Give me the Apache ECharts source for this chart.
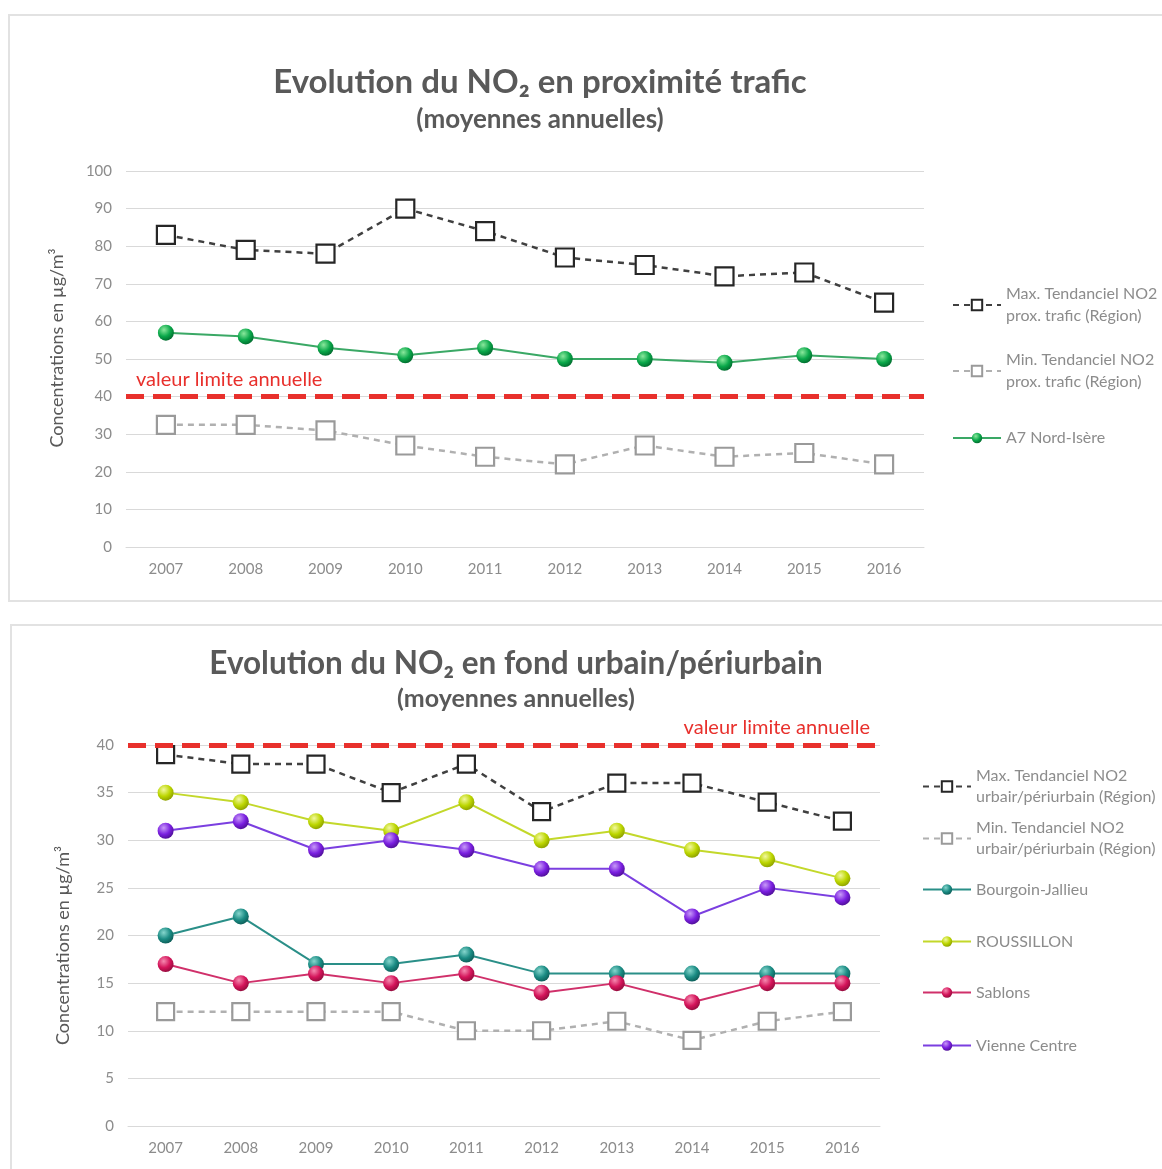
<!DOCTYPE html>
<html>
<head>
<meta charset="utf-8">
<script src="https://cdn.jsdelivr.net/npm/echarts@6/dist/echarts.min.js"></script>
<style>
  html, body { margin: 0; padding: 0; background: #ffffff; }
  body { width: 1162px; height: 1169px; position: relative; overflow: hidden; }
  .panel { position: absolute; border: 2px solid #e2e2e2; background: #ffffff; box-sizing: border-box; }
  #chart { position: absolute; left: 0; top: 0; width: 1162px; height: 1169px; }
</style>
</head>
<body>
<div class="panel" style="left:8px; top:14px; width:1170px; height:588px;"></div>
<div class="panel" style="left:10px; top:624px; width:1170px; height:560px;"></div>
<div id="chart"></div>
<script>
// Years on the category axis
const years = ['2007', '2008', '2009', '2010', '2011', '2012', '2013', '2014', '2015', '2016'];

// Traffic proximity stations (µg/m³)
const traficMax = [83, 79, 78, 90, 84, 77, 75, 72, 73, 65];
const traficMin = [32.5, 32.5, 31, 27, 24, 22, 27, 24, 25, 22];
const a7NordIsere = [57, 56, 53, 51, 53, 50, 50, 49, 51, 50];

// Urban / suburban background stations (µg/m³)
const urbainMax = [39, 38, 38, 35, 38, 33, 36, 36, 34, 32];
const urbainMin = [12, 12, 12, 12, 10, 10, 11, 9, 11, 12];
const bourgoinJallieu = [20, 22, 17, 17, 18, 16, 16, 16, 16, 16];
const roussillon = [35, 34, 32, 31, 34, 30, 31, 29, 28, 26];
const sablons = [17, 15, 16, 15, 16, 14, 15, 13, 15, 15];
const vienneCentre = [31, 32, 29, 30, 29, 27, 27, 22, 25, 24];

// Annual limit value
const valeurLimite = 40;

// Value axis ranges [min, max, step]
const traficAxis = [0, 100, 10];
const urbainAxis = [0, 40, 5];

const FONT = 'Lato, "Open Sans", sans-serif';
const TITLE_COLOR = '#595959';
const AXIS_TEXT = '#8c8c8c';
const GRID_LINE = '#d9d9d9';
const RED = '#e8302c';

function sphere(light, base, dark) {
  return {
    type: 'radial', x: 0.38, y: 0.32, r: 0.75,
    colorStops: [
      { offset: 0, color: light },
      { offset: 0.55, color: base },
      { offset: 1, color: dark }
    ]
  };
}

function xAxisFor(gridIndex) {
  return {
    type: 'category', gridIndex: gridIndex, data: years, boundaryGap: true,
    axisLine: { show: true, lineStyle: { color: GRID_LINE, width: 1 } },
    axisTick: { show: false },
    axisLabel: { color: AXIS_TEXT, fontFamily: FONT, fontSize: 15, margin: 15 }
  };
}

function yAxisFor(gridIndex, range, nameGap, namePad) {
  return {
    type: 'value', gridIndex: gridIndex,
    min: range[0], max: range[1], interval: range[2],
    name: 'Concentrations en µg/m³', nameLocation: 'middle', nameGap: nameGap,
    nameTextStyle: { color: TITLE_COLOR, fontFamily: FONT, fontSize: 18, padding: namePad },
    axisLine: { show: false }, axisTick: { show: false },
    axisLabel: { color: AXIS_TEXT, fontFamily: FONT, fontSize: 15, margin: 14 },
    splitLine: { lineStyle: { color: GRID_LINE, width: 1 } }
  };
}

function squareSeries(name, data, axisIdx, stroke, lineColor, size) {
  return {
    name: name, type: 'line', data: data,
    xAxisIndex: axisIdx, yAxisIndex: axisIdx,
    symbol: 'rect', symbolSize: size, showAllSymbol: true,
    lineStyle: { color: lineColor, width: 2.5, type: [6, 5] },
    itemStyle: { color: '#ffffff', borderColor: stroke, borderWidth: 2.2 },
    z: 3
  };
}

function sphereSeries(name, data, axisIdx, lineColor, grad, size) {
  return {
    name: name, type: 'line', data: data,
    xAxisIndex: axisIdx, yAxisIndex: axisIdx,
    symbol: 'circle', symbolSize: size, showAllSymbol: true,
    lineStyle: { color: lineColor, width: 2 },
    itemStyle: { color: grad, borderWidth: 0 },
    z: 4
  };
}

function limitLine(position) {
  return {
    silent: true, symbol: 'none', animation: false,
    lineStyle: { color: RED, width: 5, type: [18, 9] },
    label: {
      show: true, position: position, formatter: 'valeur limite annuelle',
      color: RED, fontFamily: FONT, fontSize: 20, distance: [10, 7]
    },
    data: [{ yAxis: valeurLimite }]
  };
}

function legendItem(name, left, top, twoLine, lineH) {
  return {
    data: [name], left: left, top: top, orient: 'vertical',
    itemWidth: 48, itemHeight: 13, selectedMode: false,
    textStyle: {
      color: AXIS_TEXT, fontFamily: FONT, fontSize: 16, lineHeight: lineH,
      padding: twoLine ? [lineH, 0, 0, 0] : 0
    }
  };
}

const names = {
  tMax: 'Max. Tendanciel NO2\nprox. trafic (Région)',
  tMin: 'Min. Tendanciel NO2\nprox. trafic (Région)',
  a7: 'A7 Nord-Isère',
  uMax: 'Max. Tendanciel NO2\nurbair/périurbain (Région)',
  uMin: 'Min. Tendanciel NO2\nurbair/périurbain (Région)',
  bj: 'Bourgoin-Jallieu',
  rou: 'ROUSSILLON',
  sab: 'Sablons',
  vc: 'Vienne Centre'
};

const a7Series = sphereSeries(names.a7, a7NordIsere, 0, '#3aa865', sphere('#8ae89c', '#0aa84a', '#00632a'), 16);
a7Series.markLine = limitLine('insideStartTop');

const bjSeries = sphereSeries(names.bj, bourgoinJallieu, 1, '#2a8f88', sphere('#86d6cd', '#1b8c84', '#0b5752'), 16);
bjSeries.markLine = limitLine('insideEndTop');

const option = {
  animation: false,
  backgroundColor: 'transparent',
  title: [
    {
      text: 'Evolution du NO₂ en proximité trafic',
      subtext: '(moyennes annuelles)',
      left: 535, top: 61, textAlign: 'center', itemGap: 8,
      textStyle: { color: TITLE_COLOR, fontFamily: FONT, fontSize: 33, fontWeight: 'bold' },
      subtextStyle: { color: TITLE_COLOR, fontFamily: FONT, fontSize: 26, fontWeight: 'bold' }
    },
    {
      text: 'Evolution du NO₂ en fond urbain/périurbain',
      subtext: '(moyennes annuelles)',
      left: 511, top: 643, textAlign: 'center', itemGap: 6,
      textStyle: { color: TITLE_COLOR, fontFamily: FONT, fontSize: 31.5, fontWeight: 'bold' },
      subtextStyle: { color: TITLE_COLOR, fontFamily: FONT, fontSize: 25, fontWeight: 'bold' }
    }
  ],
  grid: [
    { left: 126, top: 171, width: 798, height: 376 },
    { left: 128, top: 745, width: 752, height: 381 }
  ],
  xAxis: [xAxisFor(0), xAxisFor(1)],
  yAxis: [
    yAxisFor(0, traficAxis, 60, [0, 0, 0, 22]),
    yAxisFor(1, urbainAxis, 56, [0, 20, 0, 0])
  ],
  legend: [
    legendItem(names.tMax, 947, 267, true, 22),
    legendItem(names.tMin, 947, 333, true, 22),
    legendItem(names.a7, 947, 422, false, 22),
    legendItem(names.uMax, 917, 750, true, 21),
    legendItem(names.uMin, 917, 802, true, 21),
    legendItem(names.bj, 917, 874, false, 21),
    legendItem(names.rou, 917, 926, false, 21),
    legendItem(names.sab, 917, 977, false, 21),
    legendItem(names.vc, 917, 1030, false, 21)
  ],
  series: [
    squareSeries(names.tMax, traficMax, 0, '#262626', '#404040', 18),
    squareSeries(names.tMin, traficMin, 0, '#9a9a9a', '#b0b0b0', 18),
    a7Series,
    squareSeries(names.uMax, urbainMax, 1, '#262626', '#404040', 17),
    squareSeries(names.uMin, urbainMin, 1, '#9a9a9a', '#b0b0b0', 17),
    bjSeries,
    sphereSeries(names.rou, roussillon, 1, '#c3d82a', sphere('#f2f8a0', '#bcd600', '#869800'), 16),
    sphereSeries(names.sab, sablons, 1, '#d0306a', sphere('#f58ab0', '#d4145a', '#8a0b39'), 16),
    sphereSeries(names.vc, vienneCentre, 1, '#7b3fe0', sphere('#c89af8', '#7a1fe0', '#480d8c'), 16)
  ]
};

const chart = echarts.init(document.getElementById('chart'), null, { renderer: 'canvas' });
chart.setOption(option);
</script>
</body>
</html>
